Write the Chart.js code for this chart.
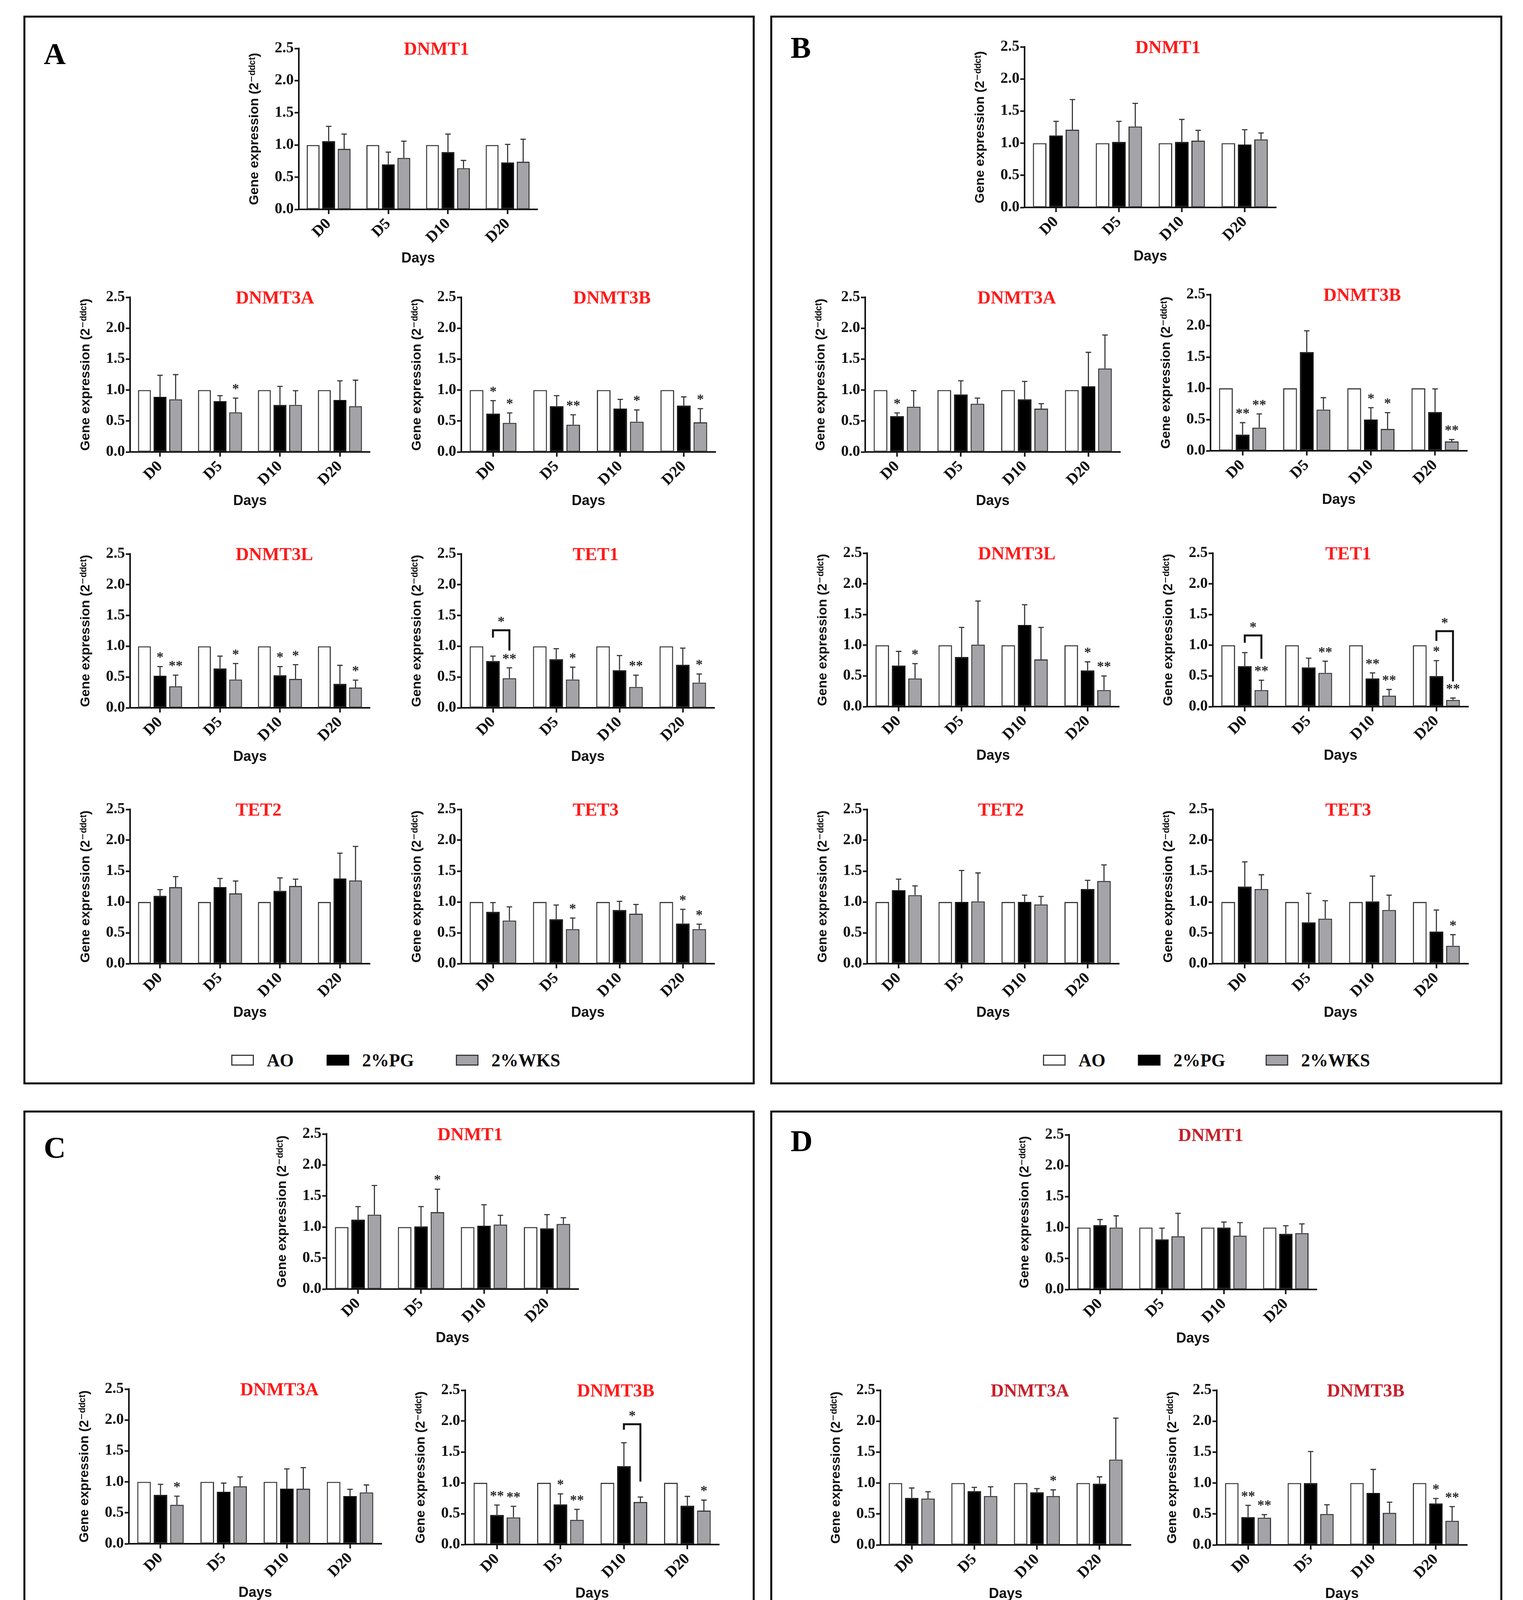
<!DOCTYPE html>
<html><head><meta charset="utf-8">
<script src="https://cdn.jsdelivr.net/npm/chart.js@4.4.1/dist/chart.umd.min.js"></script>
<style>
html,body{margin:0;padding:0;background:#fff;}
#page{position:relative;width:3899px;height:5621px;background:#fff;overflow:hidden;}
.frame{position:absolute;border:5px solid #000;box-sizing:border-box;}
.plabel{position:absolute;font-family:'Liberation Serif',serif;font-weight:bold;font-size:78px;line-height:1;color:#000;}
canvas{position:absolute;}
.leg{position:absolute;height:50px;display:flex;align-items:center;font-family:'Liberation Serif',serif;font-weight:bold;font-size:46px;color:#111;white-space:nowrap;}
.lbox{width:58px;height:28px;border:3px solid #333;box-sizing:border-box;margin-right:33px;}
</style></head>
<body><div id="page"></div>
<script>
// ---------------- DATA ----------------
const days = ['D0', 'D5', 'D10', 'D20'];
const seriesNames = ['AO', '2%PG', '2%WKS'];
const genes = ['DNMT1', 'DNMT3A', 'DNMT3B', 'DNMT3L', 'TET1', 'TET2', 'TET3'];
const panelNames = ['A', 'B', 'C', 'D'];
const aoValues = [1.0, 1.0, 1.0, 1.0];
const yTicks = [0.0, 0.5, 1.0, 1.5, 2.0, 2.5];

// Panel A
const A_DNMT1_PG = [1.06, 0.70, 0.89, 0.73], A_DNMT1_PGhi = [1.29, 0.89, 1.17, 1.01];
const A_DNMT1_WKS = [0.94, 0.80, 0.64, 0.74], A_DNMT1_WKShi = [1.17, 1.06, 0.76, 1.09];
const A_DNMT1_PGsig = ['', '', '', ''], A_DNMT1_WKSsig = ['', '', '', ''];
const A_DNMT3A_PG = [0.89, 0.82, 0.76, 0.84], A_DNMT3A_PGhi = [1.24, 0.91, 1.06, 1.15];
const A_DNMT3A_WKS = [0.85, 0.64, 0.76, 0.74], A_DNMT3A_WKShi = [1.25, 0.87, 0.99, 1.16];
const A_DNMT3A_PGsig = ['', '', '', ''], A_DNMT3A_WKSsig = ['', '*', '', ''];
const A_DNMT3B_PG = [0.62, 0.74, 0.70, 0.75], A_DNMT3B_PGhi = [0.83, 0.91, 0.85, 0.89];
const A_DNMT3B_WKS = [0.47, 0.44, 0.49, 0.48], A_DNMT3B_WKShi = [0.63, 0.60, 0.68, 0.70];
const A_DNMT3B_PGsig = ['*', '', '', ''], A_DNMT3B_WKSsig = ['*', '**', '*', '*'];
const A_DNMT3L_PG = [0.52, 0.64, 0.53, 0.39], A_DNMT3L_PGhi = [0.67, 0.84, 0.67, 0.69];
const A_DNMT3L_WKS = [0.35, 0.46, 0.47, 0.33], A_DNMT3L_WKShi = [0.53, 0.72, 0.70, 0.45];
const A_DNMT3L_PGsig = ['*', '', '*', ''], A_DNMT3L_WKSsig = ['**', '*', '*', '*'];
const A_TET1_PG = [0.76, 0.79, 0.61, 0.70], A_TET1_PGhi = [0.84, 0.96, 0.85, 0.97];
const A_TET1_WKS = [0.48, 0.46, 0.34, 0.41], A_TET1_WKShi = [0.65, 0.66, 0.53, 0.55];
const A_TET1_PGsig = ['', '', '', ''], A_TET1_WKSsig = ['**', '*', '**', '*'];
const A_TET1_brackets = [{ day: 0, top: 1.26, leftEnd: 1.14, rightEnd: 0.93, sig: '*' }];
const A_TET2_PG = [1.10, 1.24, 1.18, 1.38], A_TET2_PGhi = [1.20, 1.38, 1.39, 1.79];
const A_TET2_WKS = [1.24, 1.14, 1.26, 1.35], A_TET2_WKShi = [1.41, 1.34, 1.37, 1.90];
const A_TET2_PGsig = ['', '', '', ''], A_TET2_WKSsig = ['', '', '', ''];
const A_TET3_PG = [0.84, 0.72, 0.87, 0.65], A_TET3_PGhi = [0.99, 0.95, 1.01, 0.88];
const A_TET3_WKS = [0.70, 0.56, 0.81, 0.56], A_TET3_WKShi = [0.92, 0.74, 0.96, 0.64];
const A_TET3_PGsig = ['', '', '', '*'], A_TET3_WKSsig = ['', '*', '', '*'];

// Panel B
const B_DNMT1_PG = [1.12, 1.02, 1.02, 0.98], B_DNMT1_PGhi = [1.34, 1.34, 1.37, 1.21];
const B_DNMT1_WKS = [1.21, 1.26, 1.04, 1.06], B_DNMT1_WKShi = [1.68, 1.62, 1.20, 1.16];
const B_DNMT1_PGsig = ['', '', '', ''], B_DNMT1_WKSsig = ['', '', '', ''];
const B_DNMT3A_PG = [0.58, 0.93, 0.85, 1.06], B_DNMT3A_PGhi = [0.63, 1.15, 1.14, 1.61];
const B_DNMT3A_WKS = [0.73, 0.78, 0.70, 1.35], B_DNMT3A_WKShi = [0.99, 0.87, 0.78, 1.89];
const B_DNMT3A_PGsig = ['*', '', '', ''], B_DNMT3A_WKSsig = ['', '', '', ''];
const B_DNMT3B_PG = [0.26, 1.58, 0.50, 0.62], B_DNMT3B_PGhi = [0.45, 1.92, 0.69, 0.99];
const B_DNMT3B_WKS = [0.37, 0.66, 0.35, 0.15], B_DNMT3B_WKShi = [0.59, 0.85, 0.61, 0.18];
const B_DNMT3B_PGsig = ['**', '', '*', ''], B_DNMT3B_WKSsig = ['**', '', '*', '**'];
const B_DNMT3L_PG = [0.67, 0.81, 1.33, 0.59], B_DNMT3L_PGhi = [0.90, 1.29, 1.66, 0.73];
const B_DNMT3L_WKS = [0.46, 1.01, 0.77, 0.27], B_DNMT3L_WKShi = [0.70, 1.72, 1.29, 0.50];
const B_DNMT3L_PGsig = ['', '', '', '*'], B_DNMT3L_WKSsig = ['*', '', '', '**'];
const B_TET1_PG = [0.66, 0.64, 0.46, 0.50], B_TET1_PGhi = [0.88, 0.79, 0.55, 0.75];
const B_TET1_WKS = [0.27, 0.55, 0.18, 0.11], B_TET1_WKShi = [0.43, 0.74, 0.28, 0.14];
const B_TET1_PGsig = ['', '', '**', '*'], B_TET1_WKSsig = ['**', '**', '**', '**'];
const B_TET1_brackets = [{ day: 0, top: 1.16, leftEnd: 1.04, rightEnd: 0.78, sig: '*' },
                         { day: 3, top: 1.23, leftEnd: 1.07, rightEnd: 0.41, sig: '*' }];
const B_TET2_PG = [1.19, 1.00, 1.00, 1.21], B_TET2_PGhi = [1.37, 1.51, 1.11, 1.35];
const B_TET2_WKS = [1.11, 1.01, 0.96, 1.34], B_TET2_WKShi = [1.26, 1.47, 1.09, 1.60];
const B_TET2_PGsig = ['', '', '', ''], B_TET2_WKSsig = ['', '', '', ''];
const B_TET3_PG = [1.25, 0.67, 1.01, 0.52], B_TET3_PGhi = [1.65, 1.14, 1.42, 0.87];
const B_TET3_WKS = [1.21, 0.73, 0.87, 0.29], B_TET3_WKShi = [1.44, 1.02, 1.11, 0.47];
const B_TET3_PGsig = ['', '', '', ''], B_TET3_WKSsig = ['', '', '', '*'];

// Panel C
const C_DNMT1_PG = [1.12, 1.01, 1.02, 0.98], C_DNMT1_PGhi = [1.33, 1.33, 1.36, 1.20];
const C_DNMT1_WKS = [1.20, 1.24, 1.04, 1.05], C_DNMT1_WKShi = [1.67, 1.61, 1.19, 1.15];
const C_DNMT1_PGsig = ['', '', '', ''], C_DNMT1_WKSsig = ['', '*', '', ''];
const C_DNMT3A_PG = [0.79, 0.84, 0.89, 0.77], C_DNMT3A_PGhi = [0.96, 0.98, 1.21, 0.88];
const C_DNMT3A_WKS = [0.63, 0.93, 0.89, 0.83], C_DNMT3A_WKShi = [0.77, 1.08, 1.23, 0.95];
const C_DNMT3A_PGsig = ['', '', '', ''], C_DNMT3A_WKSsig = ['*', '', '', ''];
const C_DNMT3B_PG = [0.48, 0.65, 1.27, 0.63], C_DNMT3B_PGhi = [0.64, 0.82, 1.65, 0.78];
const C_DNMT3B_WKS = [0.44, 0.40, 0.69, 0.55], C_DNMT3B_WKShi = [0.62, 0.57, 0.77, 0.72];
const C_DNMT3B_PGsig = ['**', '*', '', ''], C_DNMT3B_WKSsig = ['**', '**', '', '*'];
const C_DNMT3B_brackets = [{ day: 2, top: 1.95, leftEnd: 1.86, rightEnd: 1.02, sig: '*' }];
const C_DNMT3L_PG = [0.38, 0.37, 0.95, 1.03], C_DNMT3L_PGhi = [0.70, 0.61, 1.29, 1.63];
const C_DNMT3L_WKS = [0.40, 0.39, 0.49, 0.63], C_DNMT3L_WKShi = [0.65, 0.64, 0.65, 1.05];
const C_DNMT3L_PGsig = ['*', '*', '', ''], C_DNMT3L_WKSsig = ['*', '*', '', ''];
const C_TET1_PG = [0.76, 1.20, 0.72, 0.86], C_TET1_PGhi = [0.96, 1.61, 0.85, 0.98];
const C_TET1_WKS = [0.65, 0.63, 0.57, 0.56], C_TET1_WKShi = [0.73, 0.86, 0.77, 0.74];
const C_TET1_PGsig = ['', '', '', '*'], C_TET1_WKSsig = ['*', '', '*', '**'];
const C_TET2_PG = [0.92, 1.10, 0.97, 0.96], C_TET2_PGhi = [1.05, 1.32, 1.04, 1.00];
const C_TET2_WKS = [0.93, 1.03, 0.90, 0.92], C_TET2_WKShi = [1.13, 1.27, 0.95, 1.04];
const C_TET2_PGsig = ['', '', '', ''], C_TET2_WKSsig = ['', '', '', ''];
const C_TET3_PG = [1.11, 0.95, 0.94, 0.88], C_TET3_PGhi = [1.32, 1.10, 1.29, 1.02];
const C_TET3_WKS = [0.91, 0.96, 0.85, 0.88], C_TET3_WKShi = [1.08, 1.10, 1.22, 1.02];
const C_TET3_PGsig = ['*', '', '', ''], C_TET3_WKSsig = ['*', '', '', ''];

// Panel D
const D_DNMT1_PG = [1.04, 0.81, 1.00, 0.90], D_DNMT1_PGhi = [1.13, 0.99, 1.09, 1.03];
const D_DNMT1_WKS = [1.00, 0.86, 0.87, 0.91], D_DNMT1_WKShi = [1.19, 1.23, 1.08, 1.06];
const D_DNMT1_PGsig = ['', '', '', ''], D_DNMT1_WKSsig = ['', '', '', ''];
const D_DNMT3A_PG = [0.76, 0.87, 0.85, 0.99], D_DNMT3A_PGhi = [0.92, 0.93, 0.91, 1.10];
const D_DNMT3A_WKS = [0.75, 0.79, 0.79, 1.38], D_DNMT3A_WKShi = [0.86, 0.94, 0.89, 2.05];
const D_DNMT3A_PGsig = ['', '', '', ''], D_DNMT3A_WKSsig = ['', '', '*', ''];
const D_DNMT3B_PG = [0.45, 1.00, 0.84, 0.67], D_DNMT3B_PGhi = [0.64, 1.51, 1.22, 0.75];
const D_DNMT3B_WKS = [0.44, 0.50, 0.52, 0.39], D_DNMT3B_WKShi = [0.49, 0.65, 0.69, 0.62];
const D_DNMT3B_PGsig = ['**', '', '', '*'], D_DNMT3B_WKSsig = ['**', '', '', '**'];
const D_DNMT3L_PG = [0.52, 0.61, 0.92, 0.66], D_DNMT3L_PGhi = [0.66, 0.83, 1.34, 0.99];
const D_DNMT3L_WKS = [0.40, 0.62, 0.57, 0.41], D_DNMT3L_WKShi = [0.47, 0.96, 0.74, 0.60];
const D_DNMT3L_PGsig = ['**', '', '', ''], D_DNMT3L_WKSsig = ['**', '', '', '*'];
const D_TET1_PG = [0.74, 0.88, 0.61, 0.71], D_TET1_PGhi = [0.79, 1.17, 0.74, 0.88];
const D_TET1_WKS = [0.48, 0.56, 0.38, 0.38], D_TET1_WKShi = [0.66, 0.64, 0.57, 0.60];
const D_TET1_PGsig = ['', '', '*', ''], D_TET1_WKSsig = ['**', '*', '**', '**'];
const D_TET2_PG = [1.06, 1.11, 1.05, 1.19], D_TET2_PGhi = [1.20, 1.23, 1.17, 1.40];
const D_TET2_WKS = [1.10, 1.05, 1.04, 1.20], D_TET2_WKShi = [1.25, 1.13, 1.23, 1.46];
const D_TET2_PGsig = ['', '', '', ''], D_TET2_WKSsig = ['', '', '', ''];
const D_TET3_PG = [0.90, 0.69, 0.91, 0.63], D_TET3_PGhi = [1.25, 0.72, 1.01, 0.71];
const D_TET3_WKS = [0.84, 0.61, 0.81, 0.50], D_TET3_WKShi = [1.19, 0.72, 0.88, 0.67];
const D_TET3_PGsig = ['', '**', '', '*'], D_TET3_WKSsig = ['', '**', '*', '**'];

// table built from the arrays above
function entry(pg, pgHi, wks, wksHi, pgSig, wksSig, brackets) {
  return { pg, pgHi, wks, wksHi, pgSig, wksSig, brackets: brackets || [] };
}
const TABLE = {
  A: {
    DNMT1: entry(A_DNMT1_PG, A_DNMT1_PGhi, A_DNMT1_WKS, A_DNMT1_WKShi, A_DNMT1_PGsig, A_DNMT1_WKSsig),
    DNMT3A: entry(A_DNMT3A_PG, A_DNMT3A_PGhi, A_DNMT3A_WKS, A_DNMT3A_WKShi, A_DNMT3A_PGsig, A_DNMT3A_WKSsig),
    DNMT3B: entry(A_DNMT3B_PG, A_DNMT3B_PGhi, A_DNMT3B_WKS, A_DNMT3B_WKShi, A_DNMT3B_PGsig, A_DNMT3B_WKSsig),
    DNMT3L: entry(A_DNMT3L_PG, A_DNMT3L_PGhi, A_DNMT3L_WKS, A_DNMT3L_WKShi, A_DNMT3L_PGsig, A_DNMT3L_WKSsig),
    TET1: entry(A_TET1_PG, A_TET1_PGhi, A_TET1_WKS, A_TET1_WKShi, A_TET1_PGsig, A_TET1_WKSsig, A_TET1_brackets),
    TET2: entry(A_TET2_PG, A_TET2_PGhi, A_TET2_WKS, A_TET2_WKShi, A_TET2_PGsig, A_TET2_WKSsig),
    TET3: entry(A_TET3_PG, A_TET3_PGhi, A_TET3_WKS, A_TET3_WKShi, A_TET3_PGsig, A_TET3_WKSsig)
  },
  B: {
    DNMT1: entry(B_DNMT1_PG, B_DNMT1_PGhi, B_DNMT1_WKS, B_DNMT1_WKShi, B_DNMT1_PGsig, B_DNMT1_WKSsig),
    DNMT3A: entry(B_DNMT3A_PG, B_DNMT3A_PGhi, B_DNMT3A_WKS, B_DNMT3A_WKShi, B_DNMT3A_PGsig, B_DNMT3A_WKSsig),
    DNMT3B: entry(B_DNMT3B_PG, B_DNMT3B_PGhi, B_DNMT3B_WKS, B_DNMT3B_WKShi, B_DNMT3B_PGsig, B_DNMT3B_WKSsig),
    DNMT3L: entry(B_DNMT3L_PG, B_DNMT3L_PGhi, B_DNMT3L_WKS, B_DNMT3L_WKShi, B_DNMT3L_PGsig, B_DNMT3L_WKSsig),
    TET1: entry(B_TET1_PG, B_TET1_PGhi, B_TET1_WKS, B_TET1_WKShi, B_TET1_PGsig, B_TET1_WKSsig, B_TET1_brackets),
    TET2: entry(B_TET2_PG, B_TET2_PGhi, B_TET2_WKS, B_TET2_WKShi, B_TET2_PGsig, B_TET2_WKSsig),
    TET3: entry(B_TET3_PG, B_TET3_PGhi, B_TET3_WKS, B_TET3_WKShi, B_TET3_PGsig, B_TET3_WKSsig)
  },
  C: {
    DNMT1: entry(C_DNMT1_PG, C_DNMT1_PGhi, C_DNMT1_WKS, C_DNMT1_WKShi, C_DNMT1_PGsig, C_DNMT1_WKSsig),
    DNMT3A: entry(C_DNMT3A_PG, C_DNMT3A_PGhi, C_DNMT3A_WKS, C_DNMT3A_WKShi, C_DNMT3A_PGsig, C_DNMT3A_WKSsig),
    DNMT3B: entry(C_DNMT3B_PG, C_DNMT3B_PGhi, C_DNMT3B_WKS, C_DNMT3B_WKShi, C_DNMT3B_PGsig, C_DNMT3B_WKSsig, C_DNMT3B_brackets),
    DNMT3L: entry(C_DNMT3L_PG, C_DNMT3L_PGhi, C_DNMT3L_WKS, C_DNMT3L_WKShi, C_DNMT3L_PGsig, C_DNMT3L_WKSsig),
    TET1: entry(C_TET1_PG, C_TET1_PGhi, C_TET1_WKS, C_TET1_WKShi, C_TET1_PGsig, C_TET1_WKSsig),
    TET2: entry(C_TET2_PG, C_TET2_PGhi, C_TET2_WKS, C_TET2_WKShi, C_TET2_PGsig, C_TET2_WKSsig),
    TET3: entry(C_TET3_PG, C_TET3_PGhi, C_TET3_WKS, C_TET3_WKShi, C_TET3_PGsig, C_TET3_WKSsig)
  },
  D: {
    DNMT1: entry(D_DNMT1_PG, D_DNMT1_PGhi, D_DNMT1_WKS, D_DNMT1_WKShi, D_DNMT1_PGsig, D_DNMT1_WKSsig),
    DNMT3A: entry(D_DNMT3A_PG, D_DNMT3A_PGhi, D_DNMT3A_WKS, D_DNMT3A_WKShi, D_DNMT3A_PGsig, D_DNMT3A_WKSsig),
    DNMT3B: entry(D_DNMT3B_PG, D_DNMT3B_PGhi, D_DNMT3B_WKS, D_DNMT3B_WKShi, D_DNMT3B_PGsig, D_DNMT3B_WKSsig),
    DNMT3L: entry(D_DNMT3L_PG, D_DNMT3L_PGhi, D_DNMT3L_WKS, D_DNMT3L_WKShi, D_DNMT3L_PGsig, D_DNMT3L_WKSsig),
    TET1: entry(D_TET1_PG, D_TET1_PGhi, D_TET1_WKS, D_TET1_WKShi, D_TET1_PGsig, D_TET1_WKSsig),
    TET2: entry(D_TET2_PG, D_TET2_PGhi, D_TET2_WKS, D_TET2_WKShi, D_TET2_PGsig, D_TET2_WKSsig),
    TET3: entry(D_TET3_PG, D_TET3_PGhi, D_TET3_WKS, D_TET3_WKShi, D_TET3_PGsig, D_TET3_WKSsig)
  }
};

// ---------------- LAYOUT (page pixels) ----------------
// plot rect: [axisLeft, top(2.5), right, bottom(0.0)]
const LAYOUT = {
  A: { frame: [60, 40, 1872, 2736], label: [112, 99], legendX: [592, 836, 1167], legendY: 2714, titleColor: '#ff1a1a',
       plots: { DNMT1: [765, 124, 1376, 536], DNMT3A: [333, 761, 947, 1157], DNMT3B: [1181, 761, 1832, 1157],
                DNMT3L: [333, 1418, 947, 1812], TET1: [1181, 1418, 1829, 1812],
                TET2: [333, 2072, 947, 2467], TET3: [1181, 2072, 1829, 2467] } },
  B: { frame: [1972, 40, 1874, 2736], label: [2024, 83], legendX: [2670, 2913, 3240], legendY: 2714, titleColor: '#ff1a1a',
       plots: { DNMT1: [2623, 120, 3267, 531], DNMT3A: [2215, 761, 2868, 1157], DNMT3B: [3099, 754, 3756, 1154],
                DNMT3L: [2220, 1416, 2865, 1809], TET1: [3105, 1416, 3759, 1809],
                TET2: [2220, 2072, 2865, 2467], TET3: [3105, 2072, 3759, 2467] } },
  C: { frame: [60, 2843, 1872, 2733], label: [112, 2899], legendX: [627, 860, 1175], legendY: 5509, titleColor: '#ff1a1a',
       plots: { DNMT1: [836, 2903, 1481, 3300], DNMT3A: [330, 3556, 977, 3952], DNMT3B: [1191, 3559, 1841, 3954],
                DNMT3L: [332, 4212, 977, 4606], TET1: [1191, 4212, 1841, 4606],
                TET2: [332, 4871, 977, 5264], TET3: [1191, 4871, 1841, 5264] } },
  D: { frame: [1972, 2843, 1874, 2733], label: [2024, 2882], legendX: [2611, 2847, 3159], legendY: 5509, titleColor: '#c8202a',
       plots: { DNMT1: [2737, 2905, 3371, 3301], DNMT3A: [2254, 3559, 2895, 3955], DNMT3B: [3115, 3559, 3756, 3955],
                DNMT3L: [2254, 4212, 2892, 4607], TET1: [3115, 4212, 3756, 4607],
                TET2: [2254, 4871, 2892, 5266], TET3: [3115, 4871, 3756, 5266] } }
};

const page = document.getElementById('page');
const SERIF = "'Liberation Serif', 'Times New Roman', serif";
const SANS = "'Liberation Sans', 'DejaVu Sans', Arial, sans-serif";
const FILLS = ['#ffffff', '#000000', '#a3a3a8'];
const BORDERS = ['#3c3c3c', '#111111', '#3a3a3a'];

function el(cls, css, text) {
  const d = document.createElement('div');
  d.className = cls;
  Object.assign(d.style, css);
  if (text !== undefined) d.textContent = text;
  page.appendChild(d);
  return d;
}

function makeChart(panel, gene) {
  const [L, T, R, B] = LAYOUT[panel].plots[gene];
  const d = TABLE[panel][gene];
  const titleColor = LAYOUT[panel].titleColor;
  const padL = 8, yW = 138, padT = 44, padR = 24, xH = 154, padB = 6;
  const cw = R - L + yW + padL + padR, ch = B - T + padT + xH + padB;
  const cv = document.createElement('canvas');
  cv.width = cw; cv.height = ch;
  cv.style.left = (L - yW - padL) + 'px';
  cv.style.top = (T - padT) + 'px';
  cv.style.width = cw + 'px';
  cv.style.height = ch + 'px';
  page.appendChild(cv);

  const his = [null, d.pgHi, d.wksHi];
  const sigs = [null, d.pgSig, d.wksSig];

  const decor = {
    id: 'decor',
    afterDatasetsDraw(chart) {
      const ctx = chart.ctx, ys = chart.scales.y, area = chart.chartArea;
      ctx.save();
      // error bars + stars
      [1, 2].forEach(ds => {
        const meta = chart.getDatasetMeta(ds);
        meta.data.forEach((bar, i) => {
          const x = bar.x, yTop = bar.y, yHi = ys.getPixelForValue(his[ds][i]);
          ctx.strokeStyle = '#333';
          ctx.lineWidth = 2.8;
          ctx.lineCap = 'butt';
          ctx.beginPath();
          ctx.moveTo(x, yTop); ctx.lineTo(x, yHi);
          ctx.moveTo(x - 7, yHi); ctx.lineTo(x + 7, yHi);
          ctx.stroke();
          const s = sigs[ds][i];
          if (s) {
            ctx.fillStyle = '#2a2a2a';
            ctx.font = 'bold 36px ' + SERIF;
            ctx.textAlign = 'center';
            ctx.textBaseline = 'alphabetic';
            ctx.fillText(s, x, Math.min(yHi, yTop) - 12);
          }
        });
      });
      // brackets
      d.brackets.forEach(b => {
        const xl = chart.getDatasetMeta(1).data[b.day].x;
        const xr = chart.getDatasetMeta(2).data[b.day].x;
        const yt = ys.getPixelForValue(b.top);
        ctx.strokeStyle = '#111';
        ctx.lineWidth = 5;
        ctx.lineJoin = 'miter';
        ctx.beginPath();
        ctx.moveTo(xl, ys.getPixelForValue(b.leftEnd));
        ctx.lineTo(xl, yt);
        ctx.lineTo(xr, yt);
        ctx.lineTo(xr, ys.getPixelForValue(b.rightEnd));
        ctx.stroke();
        ctx.fillStyle = '#2a2a2a';
        ctx.font = 'bold 36px ' + SERIF;
        ctx.textAlign = 'center';
        ctx.textBaseline = 'alphabetic';
        ctx.fillText(b.sig, (xl + xr) / 2, yt - 10);
      });
      // gene title
      ctx.fillStyle = titleColor;
      ctx.font = 'bold 47px ' + SERIF;
      ctx.textAlign = 'left';
      ctx.textBaseline = 'middle';
      ctx.fillText(gene, area.left + 0.44 * (area.right - area.left), area.top + 4);
      ctx.restore();
    }
  };

  new Chart(cv, {
    type: 'bar',
    data: {
      labels: days,
      datasets: [
        { label: seriesNames[0], data: aoValues, backgroundColor: FILLS[0], borderColor: BORDERS[0], borderWidth: 3, borderSkipped: false },
        { label: seriesNames[1], data: d.pg, backgroundColor: FILLS[1], borderColor: BORDERS[1], borderWidth: 3, borderSkipped: false },
        { label: seriesNames[2], data: d.wks, backgroundColor: FILLS[2], borderColor: BORDERS[2], borderWidth: 3, borderSkipped: false }
      ]
    },
    options: {
      responsive: false,
      maintainAspectRatio: false,
      devicePixelRatio: 1,
      animation: false,
      events: [],
      categoryPercentage: 0.78,
      barPercentage: 0.83,
      layout: { padding: { left: padL, top: padT, right: padR, bottom: padB } },
      plugins: { legend: { display: false }, tooltip: { enabled: false }, title: { display: false } },
      scales: {
        x: {
          type: 'category',
          offset: true,
          grid: { display: true, drawOnChartArea: false, drawTicks: true, tickLength: 12, tickWidth: 4, tickColor: '#111', color: '#111', offset: false },
          border: { display: true, width: 4, color: '#111' },
          ticks: { maxRotation: 45, minRotation: 45, autoSkip: false, padding: 2, color: '#111', font: { family: SERIF, weight: 'bold', size: 40 } },
          title: { display: true, text: 'Days', color: '#111', padding: { top: 0, bottom: 6 }, font: { family: SANS, weight: 'bold', size: 36 } },
          afterFit(scale) { scale.height = xH; }
        },
        y: {
          min: 0, max: 2.5,
          afterBuildTicks(scale) { scale.ticks = yTicks.map(v => ({ value: v })); },
          grid: { display: true, drawOnChartArea: false, drawTicks: true, tickLength: 11, tickWidth: 4, tickColor: '#111', color: '#111' },
          border: { display: true, width: 4, color: '#111' },
          ticks: { padding: 2, color: '#111', font: { family: SERIF, weight: 'bold', size: 39 }, callback: v => Number(v).toFixed(1) },
          title: { display: true, text: 'Gene expression (2\u207B\u1D48\u1D48\u1D9C\u1D57)', color: '#111', padding: { top: 4, bottom: 0 }, font: { family: SANS, weight: 'bold', size: 34 } },
          afterFit(scale) { scale.width = yW; }
        }
      }
    },
    plugins: [decor]
  });
}

panelNames.forEach(p => {
  const lay = LAYOUT[p];
  const [fx, fy, fw, fh] = lay.frame;
  el('frame', { left: fx + 'px', top: fy + 'px', width: fw + 'px', height: fh + 'px' });
  el('plabel', { left: lay.label[0] + 'px', top: lay.label[1] + 'px' }, p);
  seriesNames.forEach((name, i) => {
    const item = el('leg', { left: lay.legendX[i] + 'px', top: (lay.legendY - 25) + 'px' });
    const box = document.createElement('div');
    box.className = 'lbox';
    box.style.background = FILLS[i];
    box.style.borderColor = BORDERS[i];
    item.appendChild(box);
    const t = document.createElement('span');
    t.textContent = name;
    item.appendChild(t);
  });
  genes.forEach(g => makeChart(p, g));
});
</script>
</body></html>
